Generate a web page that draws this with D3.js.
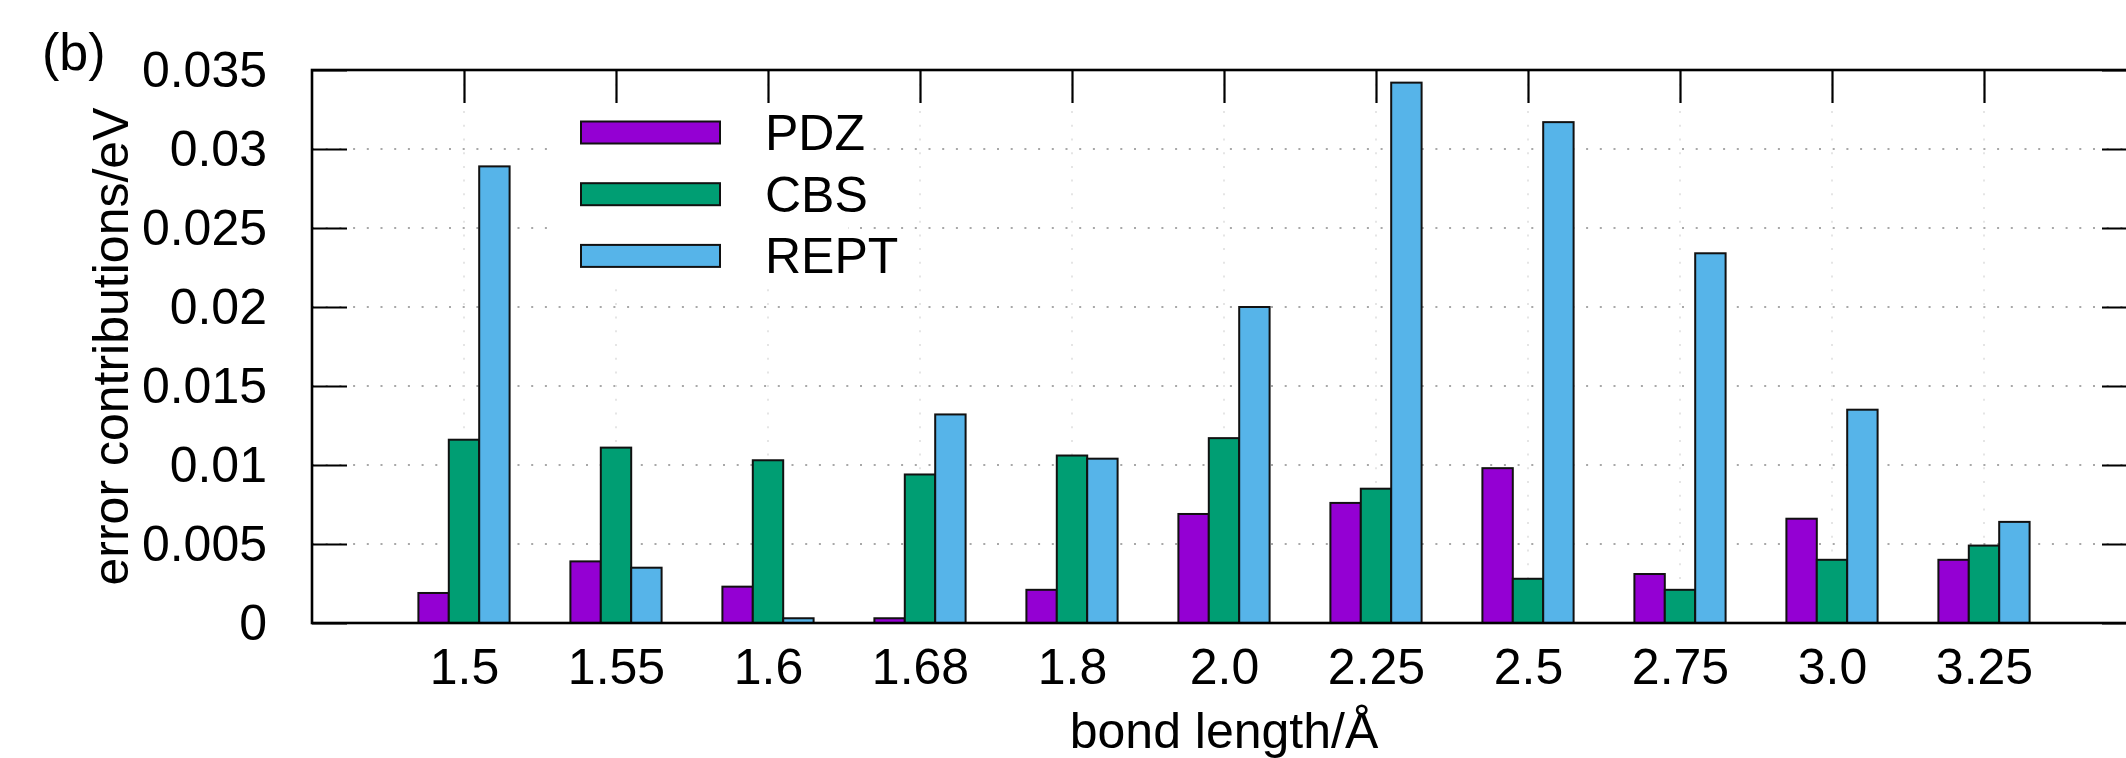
<!DOCTYPE html>
<html>
<head>
<meta charset="utf-8">
<script src="https://cdn.jsdelivr.net/npm/d3@7"></script>
<style>
  body { margin: 0; background: #fff; }
  svg { display: block; }
  text { font-family: "Liberation Sans", Arial, sans-serif; fill: #000; }
</style>
</head>
<body>
<div id="chart"></div>
<script>
// data
const categories = ["1.5", "1.55", "1.6", "1.68", "1.8", "2.0", "2.25", "2.5", "2.75", "3.0", "3.25"];
const pdz  = [0.0019, 0.0039, 0.0023, 0.0003, 0.0021, 0.0069, 0.0076, 0.0098, 0.0031, 0.0066, 0.0040];
const cbs  = [0.0116, 0.0111, 0.0103, 0.0094, 0.0106, 0.0117, 0.0085, 0.0028, 0.0021, 0.0040, 0.0049];
const rept = [0.0289, 0.0035, 0.0003, 0.0132, 0.0104, 0.0200, 0.0342, 0.0317, 0.0234, 0.0135, 0.0064];
const seriesNames = ["PDZ", "CBS", "REPT"];
const yTicks = [0, 0.005, 0.01, 0.015, 0.02, 0.025, 0.03, 0.035];
const yTickLabels = ["0", "0.005", "0.01", "0.015", "0.02", "0.025", "0.03", "0.035"];

const colors = ["#9400d3", "#009e73", "#56b4e9"];
const series = [pdz, cbs, rept];

const width = 2126, height = 758;
const margin = ({top: 70, right: -10, bottom: 135, left: 312});
const fs = 50;

const svg = d3.select("#chart").append("svg")
    .attr("width", width)
    .attr("height", height);

const x = d3.scalePoint()
    .domain(categories)
    .range([margin.left, width - margin.right])
    .padding(1);

const y = d3.scaleLinear()
    .domain([0, 0.035])
    .range([height - margin.bottom, margin.top]);

const bw = x.step() * 0.2;
const x0 = margin.left, x1 = width - margin.right;
const y0 = y(0), y1 = y(0.035);

// grid
const grid = svg.append("g");
grid.selectAll("line.h")
    .data(yTicks.slice(1, -1))
    .join("line")
    .attr("x1", x0).attr("x2", x1)
    .attr("y1", d => y(d)).attr("y2", d => y(d))
    .attr("stroke", "#a8a8a8")
    .attr("stroke-width", 2)
    .attr("stroke-dasharray", "2,11.7");
grid.selectAll("line.v")
    .data(categories)
    .join("line")
    .attr("x1", d => x(d)).attr("x2", d => x(d))
    .attr("y1", y1).attr("y2", y0)
    .attr("stroke", "#dddddd")
    .attr("stroke-width", 1.5)
    .attr("stroke-dasharray", "2,11.7");

// opaque key background
svg.append("rect")
    .attr("x", 550).attr("y", 104)
    .attr("width", 298).attr("height", 183)
    .attr("fill", "#fff");

// ticks (mirrored on all sides)
const tickStyle = g => {
    g.select(".domain").remove();
    g.selectAll(".tick line").attr("stroke", "#000").attr("stroke-width", 2.2);
    g.selectAll(".tick text").attr("font-size", fs).attr("font-family", null);
};

svg.append("g")
    .attr("transform", `translate(0,${y0})`)
    .call(d3.axisBottom(x).tickSize(-33).tickSizeOuter(0).tickPadding(25))
    .call(tickStyle);

svg.append("g")
    .attr("transform", `translate(0,${y1})`)
    .call(d3.axisTop(x).tickSize(-33).tickSizeOuter(0).tickFormat(() => ""))
    .call(tickStyle);

svg.append("g")
    .attr("transform", `translate(${x0},0)`)
    .call(d3.axisLeft(y).tickValues(yTicks).tickSize(-35).tickSizeOuter(0)
        .tickPadding(45).tickFormat((d, i) => yTickLabels[i]))
    .call(tickStyle);

svg.append("g")
    .attr("transform", `translate(${x1},0)`)
    .call(d3.axisRight(y).tickValues(yTicks).tickSize(-34).tickSizeOuter(0).tickFormat(() => ""))
    .call(tickStyle);

// bars
series.forEach((vals, s) => {
    svg.append("g")
        .attr("fill", colors[s])
        .attr("stroke", "#111")
        .attr("stroke-width", 2)
      .selectAll("rect")
      .data(vals)
      .join("rect")
        .attr("x", (d, i) => x(categories[i]) + (s - 1.5) * bw)
        .attr("y", d => y(d))
        .attr("width", bw)
        .attr("height", d => y0 - y(d));
});

// border
svg.append("rect")
    .attr("x", x0).attr("y", y1)
    .attr("width", x1 - x0).attr("height", y0 - y1)
    .attr("fill", "none")
    .attr("stroke", "#000")
    .attr("stroke-width", 2.6);

// legend
const key = svg.append("g");
seriesNames.forEach((name, i) => {
    const cy = 132.5 + i * 61.7;
    key.append("rect")
        .attr("x", 581).attr("y", cy - 11)
        .attr("width", 139).attr("height", 22)
        .attr("fill", colors[i])
        .attr("stroke", "#111")
        .attr("stroke-width", 2);
    key.append("text")
        .attr("x", 765).attr("y", cy)
        .attr("dy", "0.35em")
        .attr("font-size", fs)
        .text(name);
});

// labels
svg.append("text")
    .attr("transform", `translate(128,${(y0 + y1) / 2}) rotate(-90)`)
    .attr("text-anchor", "middle")
    .attr("font-size", fs)
    .text("error contributions/eV");

svg.append("text")
    .attr("x", (x0 + x1) / 2).attr("y", 748)
    .attr("text-anchor", "middle")
    .attr("font-size", fs)
    .text("bond length/Å");

svg.append("text")
    .attr("x", 42).attr("y", 70)
    .attr("font-size", 52)
    .attr("font-weight", 300)
    .text("(b)");
</script>
</body>
</html>
